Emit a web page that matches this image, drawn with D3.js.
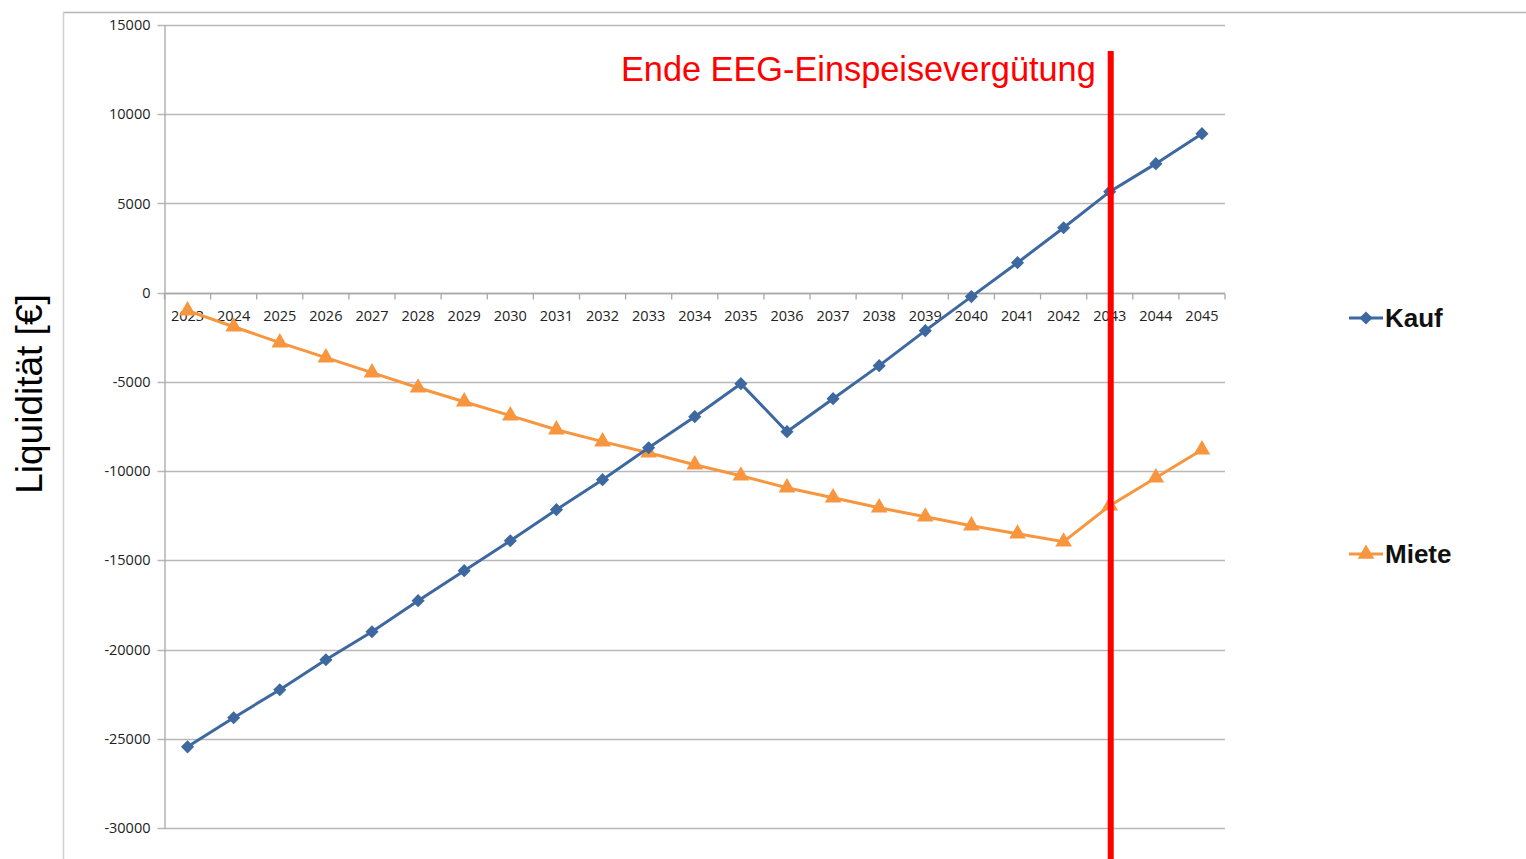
<!DOCTYPE html>
<html><head><meta charset="utf-8">
<script src="https://cdn.jsdelivr.net/npm/d3@7"></script>
<style>body{margin:0;background:#fff;}svg{display:block;}</style>
</head><body>
<svg id="c" width="1526" height="859"></svg>
<script>
const years = ["2023","2024","2025","2026","2027","2028","2029","2030","2031","2032","2033","2034","2035","2036","2037","2038","2039","2040","2041","2042","2043","2044","2045"];
const kauf = [-25450,-23820,-22250,-20570,-19000,-17260,-15580,-13900,-12160,-10480,-8690,-6950,-5100,-7790,-5940,-4090,-2130,-220,1680,3640,5660,7230,8910];
const miete = [-1010,-1910,-2800,-3640,-4480,-5330,-6110,-6890,-7680,-8350,-8970,-9640,-10260,-10930,-11490,-12050,-12560,-13060,-13510,-13960,-11940,-10370,-8800];
const yTicks = [15000,10000,5000,0,-5000,-10000,-15000,-20000,-25000,-30000];
const eegYear = "2043";
const annotation = "Ende EEG-Einspeisevergütung";
const yTitle = "Liquidität [€]";

const svg = d3.select("#c");
const L = 164.5, R = 1225, T = 25, B = 828;
const x = d3.scaleBand().domain(years).range([L, R]);
const y = d3.scaleLinear().domain([-30000, 15000]).range([B, T]);
const tickFont = "'Open Sans', 'Liberation Sans', sans-serif";

// outer frame
svg.append("line").attr("x1",63).attr("x2",1526).attr("y1",12.5).attr("y2",12.5).attr("stroke","#b4b4b4").attr("stroke-width",1.5);
svg.append("line").attr("x1",63.5).attr("x2",63.5).attr("y1",12).attr("y2",859).attr("stroke","#d0d0d0").attr("stroke-width",1.5);

// gridlines
svg.append("g").selectAll("line").data(yTicks).join("line")
  .attr("x1", L - 7).attr("x2", R).attr("y1", d => Math.round(y(d)) + 0.5).attr("y2", d => Math.round(y(d)) + 0.5)
  .attr("stroke", "#b8b8b8").attr("stroke-width", 1.3);

// y axis
const yAxis = d3.axisLeft(y).tickValues(yTicks).tickSize(0).tickPadding(14).tickFormat(d => String(d));
const yg = svg.append("g").attr("transform", `translate(${L},0)`).call(yAxis);
yg.select(".domain").attr("stroke", "#a8a8a8").attr("stroke-width", 1.3);
yg.selectAll("text").attr("font-family", tickFont).attr("font-size", 14.5).attr("fill", "#222");

// x axis at zero
const y0 = Math.round(y(0)) + 0.5;
const xg = svg.append("g").attr("transform", `translate(0,${y0})`);
xg.append("line").attr("x1", L).attr("x2", R).attr("stroke", "#a8a8a8").attr("stroke-width", 1.3);
const bounds = years.map(d => x(d)).concat([R]);
xg.selectAll("line.tk").data(bounds).join("line").attr("class","tk")
  .attr("x1", d => d).attr("x2", d => d).attr("y1", 0).attr("y2", 6).attr("stroke", "#a8a8a8").attr("stroke-width", 1.3);
xg.selectAll("text").data(years).join("text")
  .attr("x", d => x(d) + x.bandwidth() / 2).attr("y", 27).attr("text-anchor", "middle")
  .attr("font-family", tickFont).attr("font-size", 14.5).attr("fill", "#222").text(d => d);

const cx = d => x(d) + x.bandwidth() / 2;
const line = d3.line().x((d, i) => cx(years[i])).y(d => y(d));

// Miete
const orange = "#f7963f", blue = "#3d68a0";
svg.append("path").datum(miete).attr("d", line).attr("fill", "none").attr("stroke", orange).attr("stroke-width", 3);
const tri = d3.symbol().type(d3.symbolTriangle).size(120);
svg.append("g").selectAll("path").data(miete).join("path")
  .attr("d", tri).attr("transform", (d, i) => `translate(${cx(years[i])},${y(d)})`).attr("fill", orange);

// Kauf
svg.append("path").datum(kauf).attr("d", line).attr("fill", "none").attr("stroke", blue).attr("stroke-width", 3);
const dia = d3.symbol().type(d3.symbolDiamond2).size(110);
svg.append("g").selectAll("path").data(kauf).join("path")
  .attr("d", dia).attr("transform", (d, i) => `translate(${cx(years[i])},${y(d)})`).attr("fill", blue);

// EEG line
const ex = cx(eegYear) + 1;
svg.append("line").attr("x1", ex).attr("x2", ex).attr("y1", 51).attr("y2", 859).attr("stroke", "#ff0000").attr("stroke-width", 6);
svg.append("text").attr("x", ex - 15).attr("y", 81).attr("text-anchor", "end")
  .attr("font-family", "'Liberation Sans', Arial, sans-serif").attr("font-size", 34.3).attr("fill", "#ff0000").text(annotation);

// y title
svg.append("text").attr("transform", "translate(42,394) rotate(-90)").attr("text-anchor", "middle")
  .attr("font-family", "'Liberation Sans', Arial, sans-serif").attr("font-size", 37).attr("fill", "#000").text(yTitle);

// legend
const leg = [{name:"Kauf", color: blue, sym: dia, y: 318}, {name:"Miete", color: orange, sym: tri, y: 554}];
const lg = svg.append("g").selectAll("g").data(leg).join("g").attr("transform", d => `translate(1349,${d.y})`);
lg.append("line").attr("x1", 0).attr("x2", 34).attr("stroke", d => d.color).attr("stroke-width", 3);
lg.append("path").attr("d", d => d.sym()).attr("transform", "translate(17,0)").attr("fill", d => d.color);
lg.append("text").attr("x", 36).attr("y", 9).attr("font-family", "'Liberation Sans', Arial, sans-serif")
  .attr("font-weight", "bold").attr("font-size", 26).attr("fill", "#111").text(d => d.name);
</script>
</body></html>
